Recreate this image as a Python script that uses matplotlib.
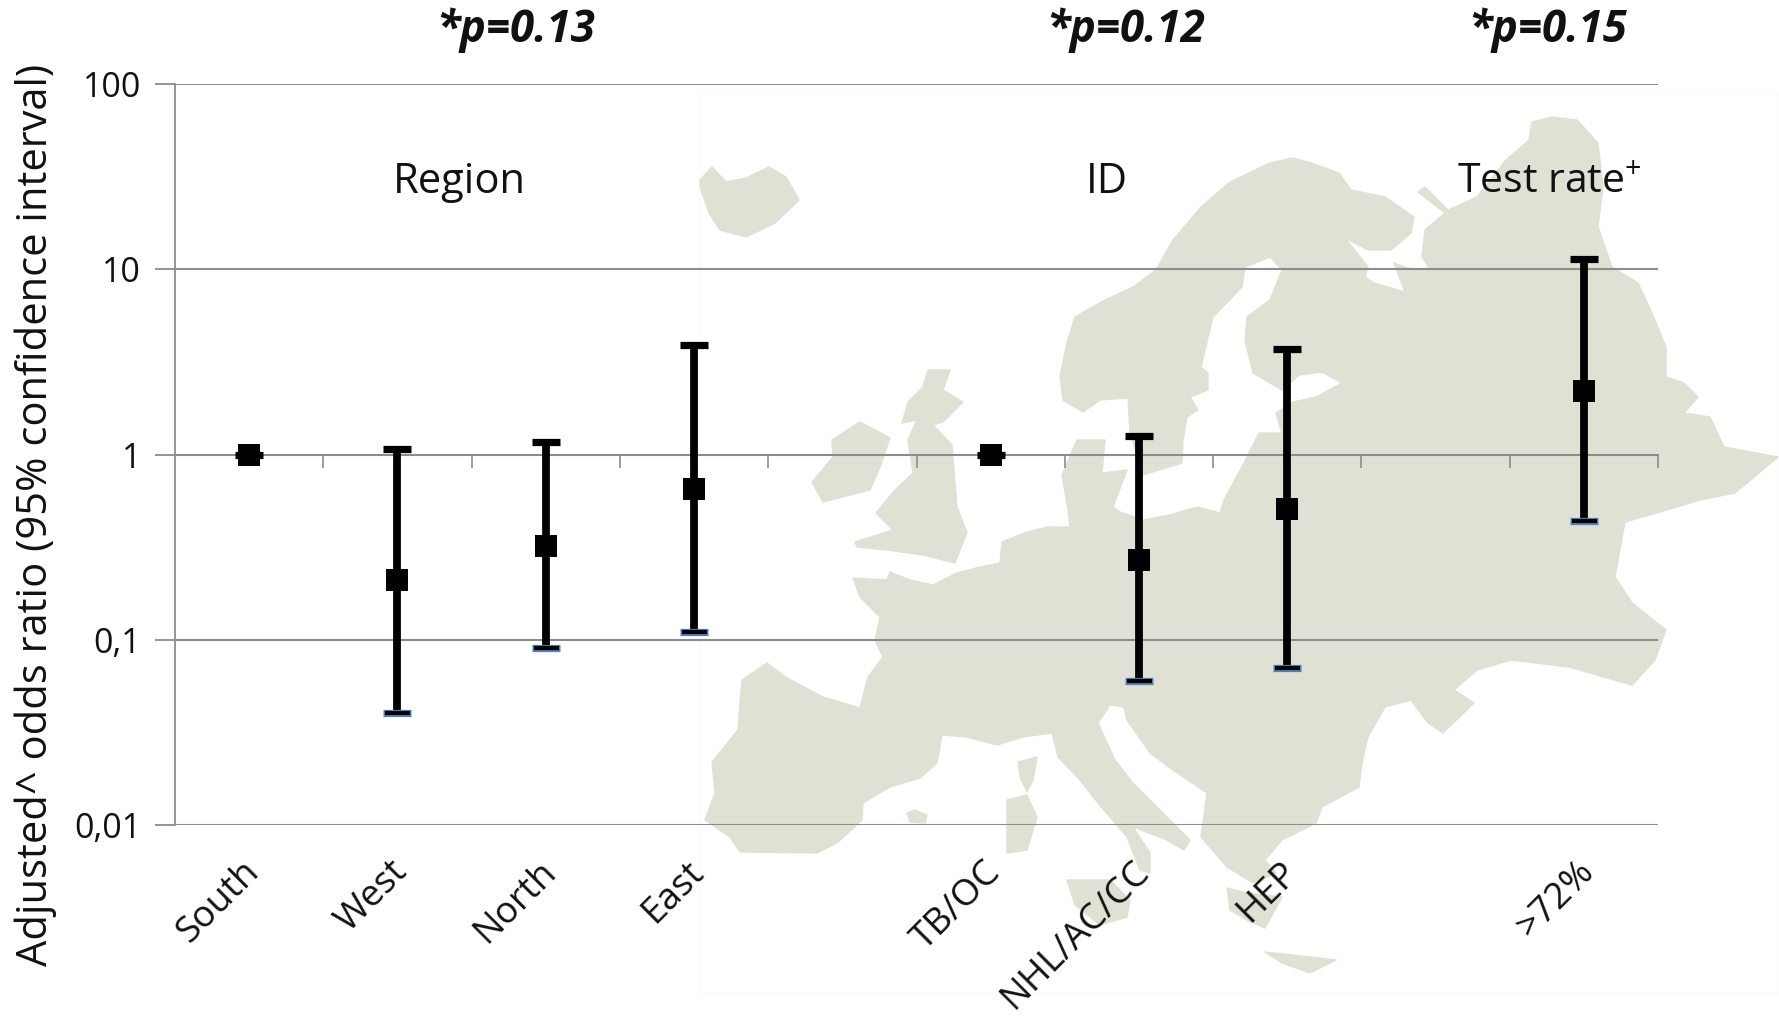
import matplotlib
matplotlib.use("Agg")
import matplotlib.pyplot as plt
from matplotlib.patches import Polygon, Rectangle
from matplotlib.ticker import FixedLocator, NullFormatter, FixedFormatter
from matplotlib.transforms import ScaledTranslation
import numpy as np

W, H = 1779, 1018
plt.rcParams['font.family'] = ['Open Sans', 'DejaVu Sans']
plt.rcParams['mathtext.default'] = 'regular'

categories = ['South', 'West', 'North', 'East', '', 'TB/OC', 'NHL/AC/CC', 'HEP', '', '>72%']
point_x = [0, 1, 2, 3, 5, 6, 7, 9]
odds = [1, 0.21, 0.32, 0.65, 1, 0.27, 0.51, 2.2]
upper = [1, 1.07, 1.17, 3.88, 1, 1.26, 3.7, 11.3]
lower = [1, 0.04, 0.09, 0.11, 1, 0.06, 0.07, 0.44]
y_ticks = [0.01, 0.1, 1, 10, 100]
y_labels = ['0,01', '0,1', '1', '10', '100']

# Decorative background map outline, in figure pixels
mainland = [(767,663),(742,680),(740,703),(738,730),(712,762),(715,793),(705,820),(730,837),(740,852),(817,853),(837,843),(862,820),(863,803),(890,787),(920,778),(937,763),(942,735),(967,737),(997,745),(1023,737),(1052,733),(1058,757),(1080,780),(1098,803),(1127,837),(1140,870),(1150,873),(1150,853),(1133,827),(1167,840),(1184,850),(1190,840),(1167,817),(1133,783),(1115,760),(1098,723),(1110,705),(1124,707),(1127,720),(1150,753),(1173,770),(1207,793),(1201,837),(1227,867),(1253,883),(1276,873),(1265,860),(1282,840),(1316,823),(1322,807),(1359,787),(1362,763),(1368,737),(1385,707),(1411,700),(1428,723),(1443,733),(1474,703),(1454,690),(1477,670),(1511,660),(1569,667),(1632,685),(1655,660),(1666,630),(1632,603),(1615,577),(1625,522),(1660,512),(1700,500),(1735,493),(1778,457),(1724,447),(1710,417),(1684,413),(1698,397),(1684,383),(1666,377),(1666,347),(1655,320),(1638,283),(1612,267),(1598,227),(1603,187),(1598,143),(1577,120),(1552,117),(1532,122),(1529,140),(1506,160),(1477,197),(1448,210),(1425,187),(1418,192),(1445,213),(1425,230),(1422,257),(1431,271),(1408,268),(1394,263),(1405,292),(1374,283),(1365,277),(1368,267),(1345,238),(1368,250),(1391,250),(1411,233),(1414,217),(1385,197),(1351,190),(1339,173),(1311,163),(1293,158),(1270,163),(1230,182),(1201,207),(1173,240),(1156,270),(1133,287),(1101,302),(1075,317),(1067,343),(1060,377),(1063,400),(1083,412),(1100,400),(1128,398),(1130,432),(1143,475),(1182,463),(1183,440),(1187,417),(1198,410),(1190,397),(1208,390),(1208,373),(1201,367),(1213,317),(1242,287),(1245,267),(1270,257),(1282,270),(1270,300),(1247,317),(1245,340),(1253,373),(1282,390),(1299,375),(1322,372),(1342,383),(1316,397),(1293,402),(1276,413),(1282,433),(1259,433),(1242,467),(1224,500),(1220,513),(1197,507),(1170,515),(1143,520),(1120,512),(1113,507),(1127,470),(1102,473),(1105,440),(1077,440),(1062,475),(1068,510),(1070,527),(1047,527),(1027,532),(1002,542),(1000,563),(980,567),(957,573),(933,585),(910,580),(890,572),(887,580),(853,578),(860,597),(880,617),(875,640),(883,657),(868,677),(862,700),(860,708),(823,697),(787,678)]
ireland = [(812,482),(833,457),(832,440),(860,422),(890,438),(880,467),(870,490),(823,502)]
britain = [(928,370),(950,370),(943,390),(963,402),(943,422),(933,425),(952,445),(955,483),(957,507),(967,533),(960,550),(955,563),(923,555),(887,550),(857,547),(855,542),(893,530),(876,513),(895,490),(913,473),(908,440),(917,420),(902,423),(908,402),(923,387)]
iceland = [(700,180),(712,167),(726,182),(746,178),(769,167),(786,177),(799,200),(775,223),(746,237),(720,230),(709,213),(700,187)]
mallorca = [(907,813),(915,810),(927,815),(925,823),(910,822)]
corsica = [(1018,762),(1037,757),(1033,780),(1027,792),(1020,777)]
sardinia = [(1007,800),(1027,795),(1037,817),(1027,850),(1007,853)]
sicily = [(1067,880),(1110,880),(1130,900),(1127,917),(1100,925),(1075,905)]
peloponnese = [(1227,888),(1247,893),(1282,897),(1265,928),(1247,920),(1230,910)]
crete = [(1265,952),(1293,955),(1336,960),(1310,973),(1282,963)]
map_shapes = [mainland, ireland, britain, iceland, mallorca, corsica, sardinia, sicily, peloponnese, crete]

fig = plt.figure(figsize=(W/100, H/100), dpi=100, facecolor='white')

bg = fig.add_axes([0, 0, 1, 1], zorder=0)
bg.set_xlim(0, W)
bg.set_ylim(H, 0)
bg.axis('off')
bg.add_patch(Rectangle((700, 92), 1077, 901, fc='white', ec='#FAFAFA', lw=1))
for shape in map_shapes:
    bg.add_patch(Polygon(shape, closed=True, fc='#E1E0D4', ec='#E1E0D4', lw=1, joinstyle='round'))

L, R, T, B = 175, 1658, 84, 825
ax = fig.add_axes([L/W, 1-B/H, (R-L)/W, (B-T)/H], zorder=1)
ax.patch.set_alpha(0)
ax.set_yscale('log')
ax.set_ylim(0.01, 100)
ax.set_xlim(-0.5, 9.5)

for s in ['top', 'right']:
    ax.spines[s].set_visible(False)
grey = '#8C8C8C'
ax.spines['left'].set_color(grey)
ax.spines['left'].set_linewidth(1.3)
ax.spines['bottom'].set_position(('data', 1))
ax.spines['bottom'].set_color(grey)
ax.spines['bottom'].set_linewidth(1.3)

ax.yaxis.set_major_locator(FixedLocator(y_ticks))
ax.yaxis.set_major_formatter(FixedFormatter(y_labels))
ax.yaxis.set_minor_locator(FixedLocator([]))
ax.tick_params(axis='y', which='major', length=14.5, width=1.3, color=grey, labelsize=24.5, pad=10, labelcolor='#111111')
ax.yaxis.grid(True, which='major', color=grey, lw=1.5, zorder=1)
ax.set_axisbelow(True)

edges = np.arange(len(categories)) + 0.5
ax.xaxis.set_major_locator(FixedLocator(list(edges)))
ax.xaxis.set_major_formatter(NullFormatter())
ax.xaxis.set_minor_locator(FixedLocator(list(range(len(categories)))))
ax.xaxis.set_minor_formatter(FixedFormatter(categories))
ax.tick_params(axis='x', which='major', length=9.5, width=1.2, color=grey, direction='out')
ax.tick_params(axis='x', which='minor', length=0, pad=297, labelsize=26.5, labelcolor='#111111')
shift = ScaledTranslation(5/100, 0, fig.dpi_scale_trans)
for t in ax.xaxis.get_minorticklabels():
    t.set_rotation(45)
    t.set_rotation_mode('anchor')
    t.set_ha('right')
    t.set_va('center')
    t.set_transform(t.get_transform() + shift)

ax.vlines(point_x, lower, upper, color='black', lw=5.6, zorder=3)
low_blue_x = [x for x, lo, m in zip(point_x, lower, odds) if lo != m]
low_blue_y = [lo for lo, m in zip(lower, odds) if lo != m]
ax.plot(low_blue_x, low_blue_y, ls='none', marker='_', ms=20, mew=5.2, color='#4F81BD', zorder=4)
ax.plot(point_x, lower, ls='none', marker='_', ms=18, mew=3, color='black', zorder=5)
ax.plot(point_x, upper, ls='none', marker='_', ms=20, mew=5.2, color='black', zorder=5)
ax.plot(point_x, odds, ls='none', marker='s', ms=16.5, mew=0, color='black', zorder=6)

def put(x, y, s, **kw):
    fig.text(x/W, 1-y/H, s, ha='center', va='center', color='#111111', **kw)

put(459, 182, 'Region', fontsize=30)
put(1107, 182, 'ID', fontsize=30)
put(1549, 183, 'Test rate$^{+}$', fontsize=29.5)
put(516, 30, '*p=0.13', fontsize=31.5, fontweight='bold', style='italic')
put(1126, 30, '*p=0.12', fontsize=31.5, fontweight='bold', style='italic')
put(1548, 30, '*p=0.15', fontsize=31.5, fontweight='bold', style='italic')
put(36, 515, 'Adjusted^ odds ratio (95% confidence interval)', fontsize=30, rotation=90)

fig.savefig('out.png', dpi=100)
